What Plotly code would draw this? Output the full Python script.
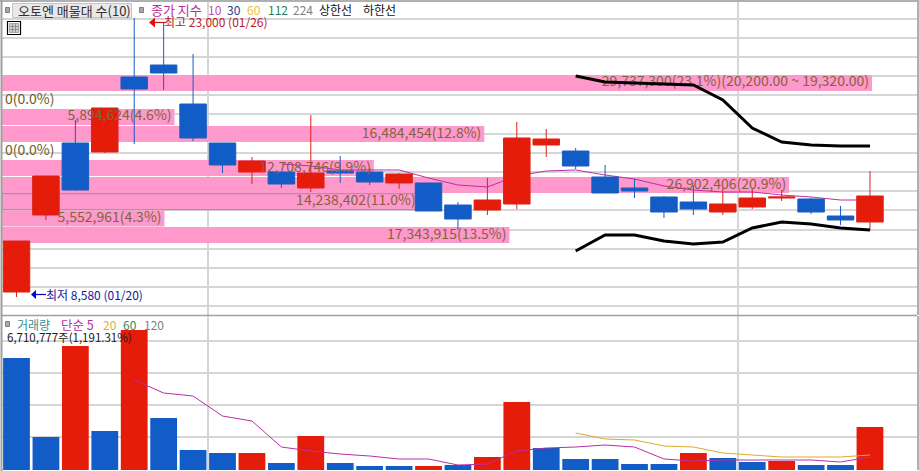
import plotly.graph_objects as go

W, H = 919, 471
FONT = "Noto Sans CJK KR"
RED, BLUE = "#E61C0A", "#125CC8"
RED_LINE, BLUE_LINE = "#DC2014", "#1A5CBE"
GRID = "#D6D6D6"
FRAME = "#A0A0A0"
PINK = "#FF99CC"
LABEL = "#84623E"

# ---- price candles -------------------------------------------------------
idx = list(range(30))
opens = [8838, 12818, 16539, 16074, 19950, 20570, 18554, 16539, 15040, 15040,
         14213, 15092, 15040, 14472, 14472, 13334, 13076, 13386, 16435, 16125,
         14781, 14213, 13748, 13489, 12973, 13231, 13696, 13645, 12766, 12456]
closes = [11474, 14833, 14110, 18347, 19330, 20156, 16797, 15402, 15609, 14420,
          14988, 14988, 14523, 14937, 13024, 12611, 13593, 16797, 16745, 15350,
          13955, 14058, 12973, 13128, 13386, 13696, 13748, 12973, 12559, 13800]
highs = [11474, 14833, 17727, 18347, 22999, 22792, 21138, 16539, 15815, 15040,
         17986, 15867, 15247, 14988, 14472, 13489, 14730, 17624, 17262, 16280,
         15402, 14678, 13800, 14368, 14213, 14162, 14110, 13696, 13283, 15092]
lows = [8580, 12559, 14058, 16022, 16487, 19278, 16642, 14988, 14420, 14213,
        14006, 14472, 14368, 14162, 13024, 12043, 12818, 13128, 15815, 15195,
        13955, 13696, 12663, 12818, 12818, 13128, 13541, 12869, 12301, 12043]

ma10_idx = list(range(9, 30))
ma10 = [15454, 15350, 15144, 15144, 15144, 14730, 14368, 14265, 14833, 15092,
        15144, 14885, 14678, 14317, 14110, 14006, 14006, 13851, 13748, 13593, 13593]

limit_idx = list(range(19, 30))
upper_limit = [20001, 19690, 19640, 19590, 19536, 18761, 17314, 16590, 16435, 16384, 16384]
lower_limit = [10957, 11784, 11784, 11474, 11319, 11423, 12146, 12456, 12353, 12146, 12043]

# ---- volume profile ------------------------------------------------------
band_prices = [19640, 18761, 17883, 17004, 16125, 15247, 14368, 13505, 12637, 11784]
band_volumes = [29737300, 0, 5894624, 16484454, 0, 12708746, 26902406, 14238402, 5552961, 17343915]
band_labels = ["29,737,300(23.1%)(20,200.00 ~ 19,320.00)", "0(0.0%)", "5,894,624(4.6%)",
               "16,484,454(12.8%)", "0(0.0%)", "12,708,746(9.9%)", "26,902,406(20.9%)",
               "14,238,402(11.0%)", "5,552,961(4.3%)", "17,343,915(13.5%)"]
BAND_HEIGHT = 827
band_edge = [0, 0, 0, 0, 0, 0, 0, 1, 0, 0]
LABEL_INSET = 100000

# ---- volume panel --------------------------------------------------------
volumes = [17500000, 5156000, 19375000, 6094000, 21875000, 8125000, 3125000, 2656000, 2656000, 1094000,
           5313000, 1094000, 625000, 625000, 625000, 781000, 2031000, 10625000, 3438000, 1719000,
           1719000, 938000, 938000, 2656000, 1875000, 1250000, 1406000, 781000, 781000, 6710777]
vol_up = [0, 0, 1, 0, 1, 0, 0, 0, 1, 0, 1, 0, 0, 0, 1, 0, 1, 1, 0, 0, 0, 0, 0, 1, 0, 0, 1, 0, 0, 1]
vol_ma5_idx = list(range(4, 30))
vol_ma5 = [14063000, 12031000, 11563000, 8438000, 7656000, 3594000, 2969000, 2500000, 2188000,
           1719000, 1719000, 781000, 938000, 2969000, 3438000, 3594000, 3906000, 3594000, 1719000,
           1406000, 1563000, 1563000, 1563000, 1563000, 1250000, 2031000]
vol_ma20_idx = list(range(19, 30))
vol_ma20 = [5781000, 4844000, 4688000, 3750000, 3594000, 2656000, 2344000, 2031000, 2031000, 2031000, 2344000]

vol_colors = [RED if u else BLUE for u in vol_up]

price_grid = [22973 - 992 * k for k in range(16)]
volume_grid = [0, 5156250, 10156250, 15156250, 20156250]
month_breaks = [6.507, 24.515]

# pixel helpers for chrome (frame / header)
def px(x): return x / W
def py(y): return 1 - y / H

L, R = 2, 917
STEP = 29.43
X0 = 16.5
index_range = [(L - X0) / STEP, (R - X0) / STEP]
VOL_PER_PX = 29737300 / 870
volume_range = [0, (R - L) * VOL_PER_PX]
x_domain = [px(L), px(R)]

fig = go.Figure()
# 1: empty main subplot, carries the grid below everything
fig.add_trace(go.Scatter(x=[None], y=[None], xaxis="x", yaxis="y", showlegend=False, hoverinfo="skip"))
# 2: volume-profile bands
fig.add_trace(go.Bar(y=band_prices, x=band_volumes, orientation="h", width=BAND_HEIGHT,
                     marker=dict(color=PINK,
                                 line=dict(color="#A09AA0", width=[1.2 * e for e in band_edge])),
                     xaxis="x2", yaxis="y", showlegend=False))
# 3: MA below candles
fig.add_trace(go.Scatter(x=ma10_idx, y=ma10, mode="lines", line=dict(color="#B82FA8", width=1),
                         xaxis="x3", yaxis="y", showlegend=False))
# 4: candles
fig.add_trace(go.Candlestick(x=idx, open=opens, high=highs, low=lows, close=closes,
                             increasing=dict(fillcolor=RED, line=dict(color=RED_LINE, width=1)),
                             decreasing=dict(fillcolor=BLUE, line=dict(color=BLUE_LINE, width=1)),
                             whiskerwidth=0, xaxis="x4", yaxis="y", showlegend=False))
# 5: band labels
fig.add_trace(go.Scatter(x=[v - LABEL_INSET if v else LABEL_INSET for v in band_volumes], y=band_prices,
                         mode="text", text=band_labels,
                         textposition=["middle right" if v == 0 else "middle left" for v in band_volumes],
                         textfont=dict(family=FONT, size=14,
                                       color=[("#6E5C28" if v == 0 else LABEL) for v in band_volumes]),
                         xaxis="x5", yaxis="y", showlegend=False))
# 6: limit lines
for series in (upper_limit, lower_limit):
    fig.add_trace(go.Scatter(x=limit_idx, y=series, mode="lines", line=dict(color="#000000", width=3),
                             xaxis="x6", yaxis="y", showlegend=False))
# volume panel
fig.add_trace(go.Bar(x=idx, y=volumes, marker=dict(color=vol_colors, line=dict(width=0)),
                     xaxis="x", yaxis="y2", showlegend=False))
fig.add_trace(go.Scatter(x=vol_ma20_idx, y=vol_ma20, mode="lines", line=dict(color="#DCA92E", width=1),
                         xaxis="x", yaxis="y2", showlegend=False))
fig.add_trace(go.Scatter(x=vol_ma5_idx, y=vol_ma5, mode="lines", line=dict(color="#B82FA8", width=1),
                         xaxis="x", yaxis="y2", showlegend=False))

hidden = dict(showgrid=False, zeroline=False, showticklabels=False, ticks="", showline=False, domain=x_domain,
              overlaying="x", anchor="y")
shapes = []
def line(x0, y0, x1, y1, color, width=1):
    shapes.append(dict(type="line", xref="paper", yref="paper", x0=px(x0), y0=py(y0), x1=px(x1), y1=py(y1),
                       line=dict(color=color, width=width)))
def rect(x0, y0, x1, y1, fill, color=None, width=1):
    shapes.append(dict(type="rect", xref="paper", yref="paper", x0=px(x0), y0=py(y0), x1=px(x1), y1=py(y1),
                       fillcolor=fill, line=dict(color=color or fill, width=width)))
def tri(points, fill):
    path = "M " + " L ".join(f"{px(a):.5f} {py(b):.5f}" for a, b in points) + " Z"
    shapes.append(dict(type="path", xref="paper", yref="paper", path=path, fillcolor=fill, line=dict(width=0)))

line(0, 1, 919, 1, "#B0B0B0", 2)
line(1.5, 0, 1.5, 471, FRAME, 2)
line(L, 315.5, R, 315.5, "#A0A0A0", 1.5)
rect(12.5, 3.5, 131.5, 17.5, "#E9E9E9", "#C4C4C4")
rect(5.5, 7.5, 9.5, 12.5, "#A8A8A8", "#808080")
rect(139.5, 7.5, 143.5, 12.5, "#A8A8A8", "#808080")
rect(5.5, 321.5, 9.5, 326.5, "#A8A8A8", "#808080")
rect(7.5, 21.5, 20.5, 34.5, "#FFFFFF", "#000000", 1.2)
rect(9.5, 23.5, 18.5, 32.5, "#D0D0D0", "#909090", 0.7)
for g in (12.5, 15.5):
    line(g, 23.5, g, 32.5, "#808080", 0.7)
for g in (26.5, 29.5):
    line(9.5, g, 18.5, g, "#808080", 0.7)
tri([(149, 22.5), (155, 17.5), (155, 27.5)], "#E01010")
line(155, 22.5, 166, 22.5, "#C81818", 1.2)
tri([(31, 294.5), (36, 290), (36, 299)], "#0000D0")
line(36, 294.5, 46, 294.5, "#0000D0", 1.2)

texts = [
    ("오토엔 매물대 수(10)", 17, 10.5, "#303030", 13),
    ("종가 지수", 150, 9.5, "#C0289C", 13), ("10", 207, 9.5, "#C04AB4", 12), ("30", 226, 9.5, "#1E3C8C", 12),
    ("60", 246, 9.5, "#E8C23C", 12), ("112", 267, 9.5, "#2E8050", 12), ("224", 292, 9.5, "#808080", 12),
    ("상한선", 318, 9.5, "#101010", 12), ("하한선", 362, 9.5, "#101010", 12),
    ("최고 23,000 (01/26)", 163, 22, "#B81C28", 12),
    ("최저 8,580 (01/20)", 45, 294, "#1414A0", 12),
    ("거래량", 16, 324, "#3E8E8E", 12), ("단순 5", 60, 324, "#B030A0", 12.5), ("20", 102, 324, "#D8B040", 12),
    ("60", 122, 324, "#2E8B57", 12), ("120", 143, 324, "#808080", 12),
    ("6,710,777주(1,191.31%)", 6, 337, "#202020", 11.5),
]
annotations = [dict(text=t, x=px(x), y=py(y), xref="paper", yref="paper", xanchor="left", yanchor="middle",
                    showarrow=False, borderpad=0, font=dict(family=FONT, size=s, color=c))
               for t, x, y, c, s in texts]

fig.update_layout(
    width=W, height=H, margin=dict(l=0, r=0, t=0, b=0), paper_bgcolor="#FFFFFF", plot_bgcolor="#FFFFFF",
    showlegend=False, boxgap=0.1, boxgroupgap=0, bargap=0.09, barmode="overlay",
    font=dict(family=FONT), shapes=shapes, annotations=annotations,
    xaxis=dict(domain=x_domain, range=index_range, tickmode="array", tickvals=month_breaks, showgrid=True,
               gridcolor=GRID, gridwidth=1.5, zeroline=False, showticklabels=False, ticks="", anchor="y",
               rangeslider=dict(visible=False)),
    xaxis2=dict(range=volume_range, **hidden),
    xaxis3=dict(range=index_range, **hidden),
    xaxis4=dict(range=index_range, rangeslider=dict(visible=False), **hidden),
    xaxis5=dict(range=volume_range, **hidden),
    xaxis6=dict(range=index_range, **hidden),
    yaxis=dict(domain=[py(315), py(0)], range=[23929 - 51.68 * 315, 23929], tickmode="array", tickvals=price_grid,
               showgrid=True, gridcolor=GRID, gridwidth=1.5, zeroline=False, showticklabels=False,
               side="right", anchor="x", ticks="outside", ticklen=2, tickcolor="#808080",
               showline=True, linecolor="#B0B0B0", linewidth=2),
    yaxis2=dict(domain=[py(470), py(316)], range=[0, 154 * 156250], tickmode="array", tickvals=volume_grid,
                showgrid=True, gridcolor=GRID, gridwidth=1.5, zeroline=False, showticklabels=False,
                side="right", anchor="x", ticks="outside", ticklen=2, tickcolor="#808080",
                showline=True, linecolor="#B0B0B0", linewidth=2,
                minor=dict(ticks="outside", ticklen=2, tickcolor="#808080", tickmode="linear", tick0=0, dtick=937500)),
)
fig.write_html("out.html", config={"displayModeBar": False},
               post_script="document.body.style.margin='0';document.body.style.overflow='hidden';")
